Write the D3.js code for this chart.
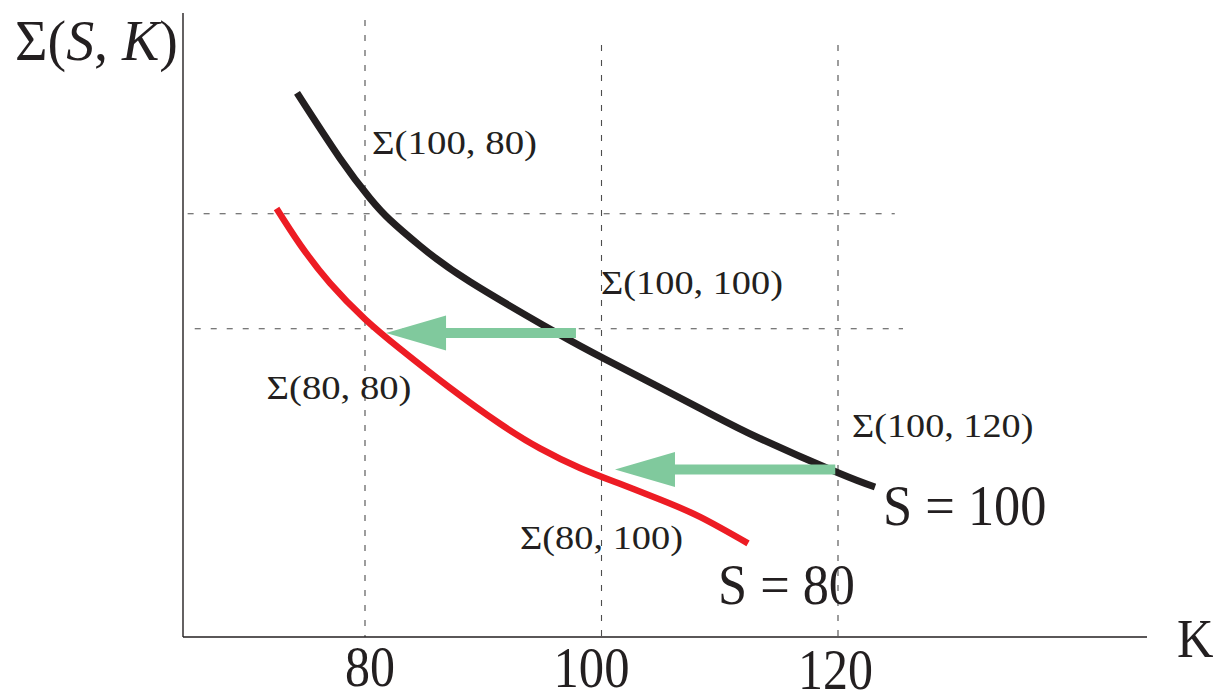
<!DOCTYPE html>
<html>
<head>
<meta charset="utf-8">
<script src="https://cdn.jsdelivr.net/npm/d3@7"></script>
<style>
  html, body { margin: 0; padding: 0; background: #fff; }
  svg { display: block; }
  text { font-family: "Liberation Serif", "Times New Roman", serif; fill: #231f20; }
</style>
</head>
<body>
<svg id="chart" width="1216" height="693"></svg>
<script>
// Strike ticks on the K axis
const strikeTicks = [80, 100, 120];

// Implied volatility smile (in %) for spot S = 100
const strikesS100 = [74.25, 77.89, 80.42, 82.11, 84.65, 88.88, 96.24, 100.3, 108.33, 113.4, 120.0, 123.13];
const volS100     = [35.25, 32.4, 30.67, 29.73, 28.6, 27.04, 24.81, 23.68, 21.54, 20.23, 18.74, 18.12];

// Implied volatility smile (in %) for spot S = 80
const strikesS80 = [72.52, 74.5, 77.04, 80.0, 82.96, 87.19, 91.42, 94.8, 98.18, 101.56, 104.95, 108.33, 112.39];
const volS80     = [30.23, 28.67, 26.98, 25.42, 24.13, 22.43, 20.87, 19.8, 18.95, 18.26, 17.58, 16.82, 15.67];

// Reference volatility levels Σ(100, 80) and Σ(100, 100)
const refLevels = [30, 25];

// Sticky-moneyness shifts: from strike, to strike, volatility level
const shiftFrom  = [97.84, 119.77];
const shiftTo    = [81.78, 101.14];
const shiftLevel = [24.81, 18.88];

// Point labels
const pointLabels = ["Σ(100, 80)", "Σ(100, 100)", "Σ(80, 80)", "Σ(100, 120)", "Σ(80, 100)"];
const curveLabels = ["S = 100", "S = 80"];

const svg = d3.select("#chart");

// Plot frame
const frame = { left: 183, right: 1147, top: 13, bottom: 637 };

const x = d3.scaleLinear().domain([80, 120]).range([365, 838]);
const y = d3.scaleLinear().domain([11.6, 30]).range([frame.bottom, 213.7]);

const ink = "#231f20";

// Dashed guide lines
const guides = svg.append("g")
  .attr("stroke", "#4d4d4d")
  .attr("stroke-width", 1.1)
  .attr("fill", "none");

const vTop = [20, 45, 45];
strikeTicks.forEach((k, i) => {
  guides.append("line")
    .attr("x1", x(k)).attr("x2", x(k))
    .attr("y1", vTop[i]).attr("y2", frame.bottom)
    .attr("stroke-dasharray", "6 9");
});

const hExtent = [[65.0, 124.8], [65.6, 125.5]];
refLevels.forEach((v, i) => {
  guides.append("line")
    .attr("x1", x(hExtent[i][0])).attr("x2", x(hExtent[i][1]))
    .attr("y1", y(v)).attr("y2", y(v))
    .attr("stroke-dasharray", "6 10");
});

// Axes
const axes = svg.append("g").attr("stroke", ink).attr("stroke-width", 1.4);
axes.append("line")
  .attr("x1", frame.left).attr("x2", frame.left)
  .attr("y1", frame.top).attr("y2", frame.bottom);
axes.append("line")
  .attr("x1", frame.left).attr("x2", frame.right)
  .attr("y1", frame.bottom).attr("y2", frame.bottom);

// Smile curves
const line = d3.line()
  .x(d => x(d[0]))
  .y(d => y(d[1]))
  .curve(d3.curveNatural);

svg.append("path")
  .datum(d3.zip(strikesS80, volS80))
  .attr("d", line)
  .attr("fill", "none")
  .attr("stroke", "#ed1c24")
  .attr("stroke-width", 6.5)
  .attr("stroke-linecap", "butt");

svg.append("path")
  .datum(d3.zip(strikesS100, volS100))
  .attr("d", line)
  .attr("fill", "none")
  .attr("stroke", ink)
  .attr("stroke-width", 7)
  .attr("stroke-linecap", "butt");

// Shift arrows
const shaftHalf = 5, headHalf = 17.5, headLen = 60;
shiftFrom.forEach((k0, i) => {
  const xt = x(k0), xh = x(shiftTo[i]), yc = y(shiftLevel[i]);
  const xb = xh + headLen;
  const pts = [
    [xt, yc - shaftHalf], [xb, yc - shaftHalf], [xb, yc - headHalf],
    [xh, yc], [xb, yc + headHalf], [xb, yc + shaftHalf], [xt, yc + shaftHalf]
  ];
  svg.append("path")
    .attr("d", "M" + pts.map(p => p.join(",")).join("L") + "Z")
    .attr("fill", "#80c99d");
});

// Text helper: places text with a given left edge, baseline, size and width
function place(parts, left, baseline, size, width) {
  const t = svg.append("text")
    .attr("font-size", size);
  parts.forEach(p => {
    const s = t.append("tspan").text(p.t);
    if (p.i) s.attr("font-style", "italic");
  });
  const w = t.node().getComputedTextLength();
  t.attr("transform", `translate(${left},${baseline}) scale(${width / w},1)`);
  return t;
}

// Axis titles
place([{ t: "Σ(" }, { t: "S", i: true }, { t: ", " }, { t: "K", i: true }, { t: ")" }], 15, 60, 56, 163);
place([{ t: "K" }], 1177, 657, 55, 36.5);

// Strike tick labels
const tickW = [50, 76, 75];
const tickDx = [5, -10, -2.5];
const tickBase = [686, 687, 689];
strikeTicks.forEach((k, i) => {
  place([{ t: String(k) }], x(k) + tickDx[i] - tickW[i] / 2, tickBase[i], 56, tickW[i]);
});

// Volatility point labels
const plPos = [[372, 153.5, 165], [601, 294, 182], [266.5, 398.5, 145], [852, 437, 181.5], [520, 548.5, 163]];
pointLabels.forEach((s, i) => {
  place([{ t: s }], plPos[i][0], plPos[i][1], 34, plPos[i][2]);
});

// Curve labels
const clPos = [[883, 525, 163.5], [718, 603.5, 137]];
curveLabels.forEach((s, i) => {
  place([{ t: s }], clPos[i][0], clPos[i][1], 58, clPos[i][2]);
});
</script>
</body>
</html>
